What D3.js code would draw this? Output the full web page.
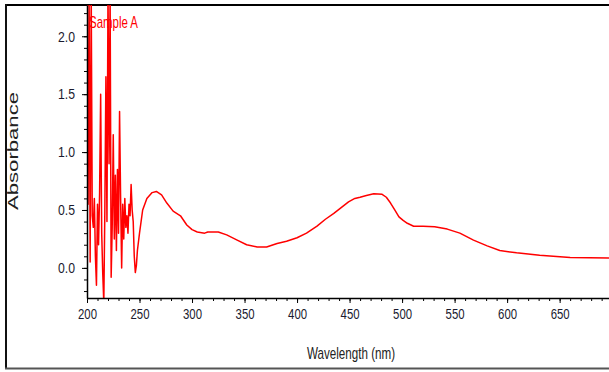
<!DOCTYPE html>
<html>
<head>
<meta charset="utf-8">
<script src="https://cdn.jsdelivr.net/npm/d3@7"></script>
<style>
  body { margin: 0; background: #fff; }
  svg { display: block; }
  text { font-family: "Liberation Sans", Arial, sans-serif; }
</style>
</head>
<body>
<div id="chart"></div>
<script>
// wavelength (nm) and absorbance
const wavelength = [
  200, 201, 202, 203, 204, 205, 206, 207, 208, 209,
  210, 211, 212, 213, 214, 215, 216, 217, 218, 219,
  220, 221, 222, 223, 224, 225, 226, 227, 228, 229,
  230, 231, 232, 233, 234, 235, 236, 237, 238, 239,
  240, 241, 242, 243, 244, 245, 246, 247, 248, 250,
  253, 257, 262, 266, 271, 276, 282, 289, 295, 300,
  305, 312, 315, 325, 333, 343, 352, 362, 371, 381,
  390, 400, 409, 419, 427, 435, 442, 449, 455, 460,
  466, 473, 481, 485, 489, 493, 497, 501, 505, 511,
  520, 531, 543, 555, 568, 581, 593, 609, 631, 660, 697
];
const absorbance = [
  2.4, 0.55, 2.4, 0.05, 2.4, 0.45, 0.35, 0.6, 0.1, -0.15,
  0.55, 0.2, 0.65, 1.5, 0.3, -0.05, -0.3, 0.5, 1.65, 0.4,
  2.4, 0.9, 2.4, -0.08, 0.35, 1.15, 0.25, 0.8, 0.15, 0.85,
  0.3, 1.35, 0.6, 0.0, 0.55, 0.25, 0.6, 0.35, 0.45, 0.3,
  0.55, 0.45, 0.72, 0.5, 0.4, 0.1, -0.04, 0.02, 0.15, 0.3,
  0.5, 0.6, 0.65, 0.66, 0.63, 0.56, 0.49, 0.45, 0.37, 0.33,
  0.31, 0.3, 0.31, 0.31, 0.285, 0.24, 0.2, 0.18, 0.18, 0.21,
  0.23, 0.26, 0.3, 0.36, 0.42, 0.47, 0.52, 0.57, 0.6, 0.61,
  0.625, 0.64, 0.635, 0.61, 0.56, 0.5, 0.44, 0.41, 0.385, 0.36,
  0.36, 0.355, 0.335, 0.3, 0.24, 0.19, 0.15, 0.13, 0.11, 0.09, 0.085
];
const xMajorTicks = [200, 250, 300, 350, 400, 450, 500, 550, 600, 650];
const yMajorTicks = [0.0, 0.5, 1.0, 1.5, 2.0];
const seriesName = 'Sample A';

const width = 609, height = 372;
const plot = { left: 87, right: 609, top: 5, bottom: 298 };

const svg = d3.select('#chart').append('svg')
  .attr('width', width)
  .attr('height', height);

const x = d3.scaleLinear().domain([200, 697]).range([plot.left, plot.right]);
const y = d3.scaleLinear().domain([-0.26, 2.27]).range([plot.bottom, plot.top]);

// outer frame
svg.append('line').attr('x1', 5).attr('x2', width).attr('y1', 5).attr('y2', 5)
  .attr('stroke', '#000').attr('stroke-width', 2);
svg.append('line').attr('x1', 6).attr('x2', 6).attr('y1', 4).attr('y2', 369)
  .attr('stroke', '#111').attr('stroke-width', 2);
svg.append('line').attr('x1', 5).attr('x2', width).attr('y1', 368.5).attr('y2', 368.5)
  .attr('stroke', '#555').attr('stroke-width', 2);

svg.append('clipPath').attr('id', 'clip')
  .append('rect')
  .attr('x', plot.left).attr('y', plot.top)
  .attr('width', plot.right - plot.left).attr('height', plot.bottom - plot.top);

// spectrum
const points = wavelength.map((w, i) => [w, absorbance[i]]);
svg.append('path')
  .datum(points)
  .attr('clip-path', 'url(#clip)')
  .attr('fill', 'none')
  .attr('stroke', '#ff0000')
  .attr('stroke-width', 1.5)
  .attr('stroke-linejoin', 'round')
  .attr('d', d3.line().x(d => x(d[0])).y(d => y(d[1])));

// x axis: minor then major
const xMinor = d3.range(200, 697, 10);
svg.append('g')
  .attr('transform', `translate(0, ${plot.bottom})`)
  .call(d3.axisBottom(x).tickValues(xMinor).tickSize(3).tickFormat(''))
  .call(g => g.select('.domain').remove());
const xAxis = svg.append('g')
  .attr('transform', `translate(0, ${plot.bottom})`)
  .call(d3.axisBottom(x).tickValues(xMajorTicks).tickSize(5).tickPadding(5).tickSizeOuter(0));
xAxis.select('.domain').attr('stroke-width', 1.5);
xAxis.selectAll('text')
  .attr('font-size', 15)
  .attr('fill', '#1a1a2e')
  .attr('textLength', 19)
  .attr('lengthAdjust', 'spacingAndGlyphs');

// y axis: minor then major
const yMinor = d3.range(-2, 23).map(d => d / 10);
svg.append('g')
  .attr('transform', `translate(${plot.left}, 0)`)
  .call(d3.axisLeft(y).tickValues(yMinor).tickSize(3).tickFormat(''))
  .call(g => g.select('.domain').remove());
const yAxis = svg.append('g')
  .attr('transform', `translate(${plot.left}, 0)`)
  .call(d3.axisLeft(y).tickValues(yMajorTicks).tickSize(5).tickPadding(7)
    .tickSizeOuter(0).tickFormat(d3.format('.1f')));
yAxis.select('.domain').attr('stroke-width', 1.5);
yAxis.selectAll('text')
  .attr('font-size', 15)
  .attr('fill', '#1a1a2e')
  .attr('textLength', 17)
  .attr('lengthAdjust', 'spacingAndGlyphs');

// axis titles
svg.append('text')
  .attr('x', 351).attr('y', 359)
  .attr('text-anchor', 'middle')
  .attr('font-size', 17)
  .attr('fill', '#222')
  .attr('textLength', 88)
  .attr('lengthAdjust', 'spacingAndGlyphs')
  .text('Wavelength (nm)');

svg.append('text')
  .attr('transform', 'translate(18, 151) rotate(-90) scale(1, 0.72)')
  .attr('text-anchor', 'middle')
  .attr('font-size', 20)
  .attr('fill', '#222')
  .attr('textLength', 118)
  .attr('lengthAdjust', 'spacingAndGlyphs')
  .text('Absorbance');

// series label
svg.append('text')
  .attr('x', 89).attr('y', 28)
  .attr('font-size', 17)
  .attr('fill', '#ff0000')
  .attr('textLength', 49)
  .attr('lengthAdjust', 'spacingAndGlyphs')
  .text(seriesName);
</script>
</body>
</html>
